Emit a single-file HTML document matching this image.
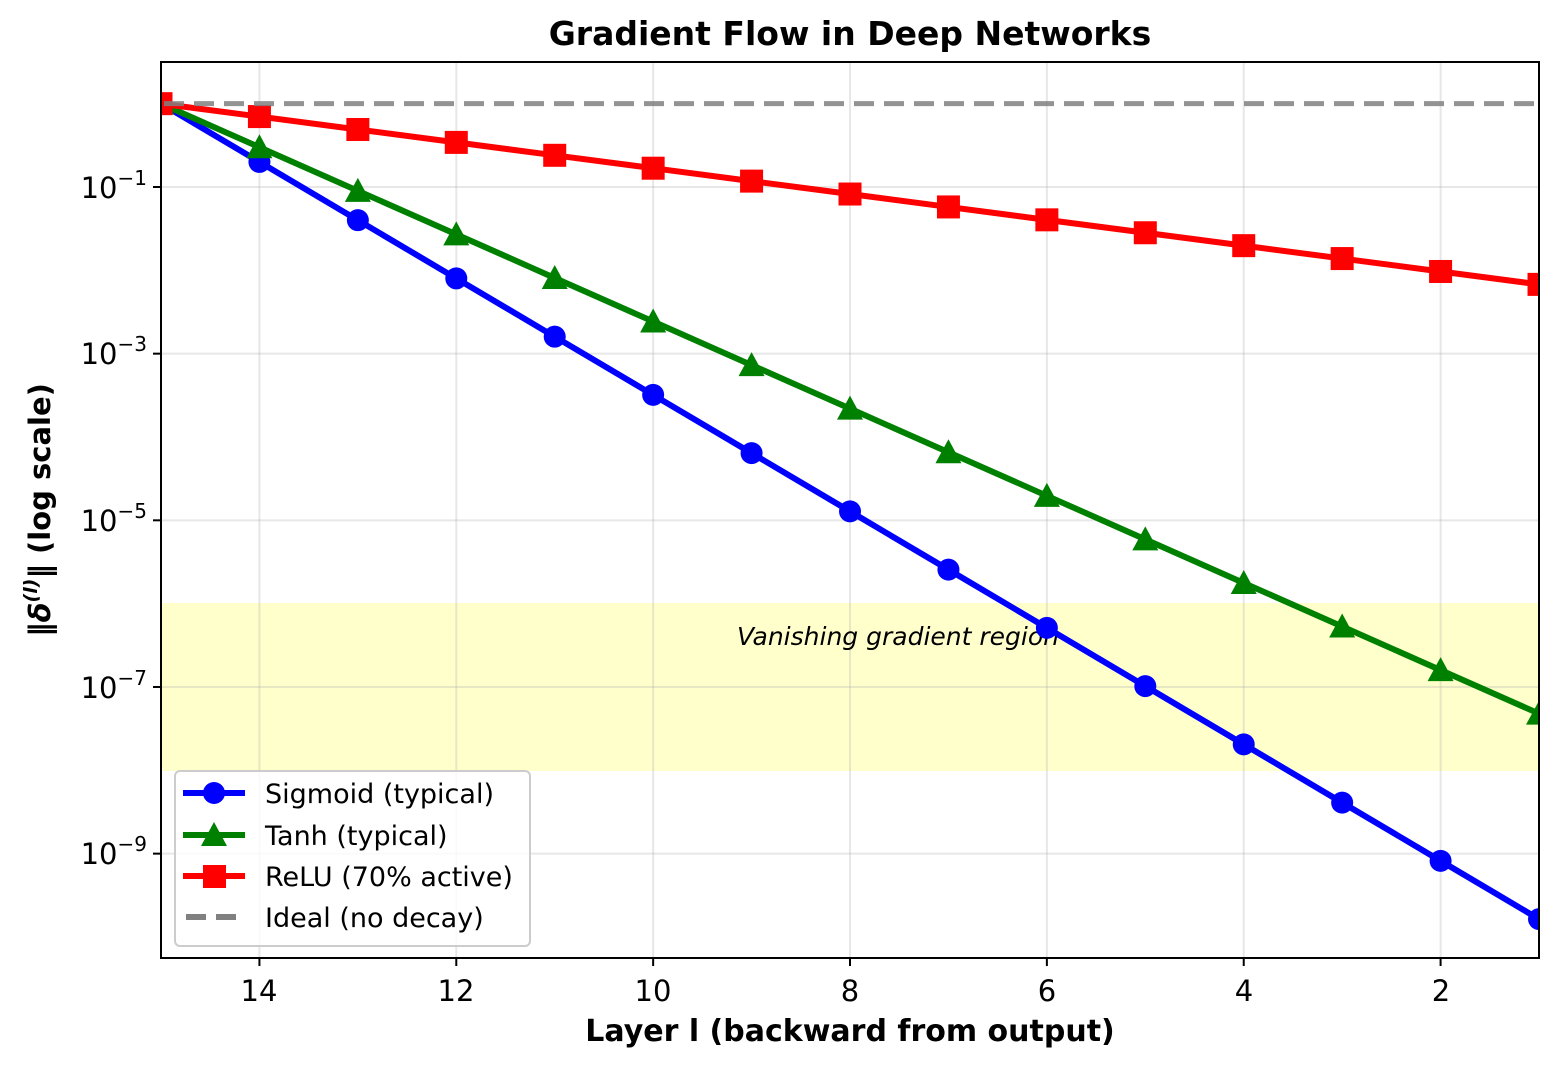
<!DOCTYPE html>
<html><head><meta charset="utf-8"><style>
html,body{margin:0;padding:0;background:#fff;}
svg{display:block;font-family:"DejaVu Sans","Liberation Sans",sans-serif;}
</style></head><body>
<svg id="s" width="1559" height="1068" viewBox="0 0 1559 1068" xmlns="http://www.w3.org/2000/svg">
<defs><clipPath id="c"><rect x="161" y="62" width="1378" height="896"/></clipPath></defs>
<rect width="1559" height="1068" fill="#fff"/>
<rect x="161" y="603" width="1378" height="168" fill="#ffff00" fill-opacity="0.2"/>
<g id="grid" stroke="#b0b0b0" stroke-opacity="0.3" stroke-width="2"></g>
<text x="898" y="645" font-size="25" font-style="italic" text-anchor="middle">Vanishing gradient region</text>
<g id="series" clip-path="url(#c)"></g>
<rect x="161" y="62" width="1378" height="896" fill="none" stroke="#000" stroke-width="2"/>
<g id="ticks" stroke="#000" stroke-width="2"></g>
<g font-size="29" fill="#000">
<text x="259" y="1001" text-anchor="middle">14</text>
<text x="456" y="1001" text-anchor="middle">12</text>
<text x="653" y="1001" text-anchor="middle">10</text>
<text x="850" y="1001" text-anchor="middle">8</text>
<text x="1047" y="1001" text-anchor="middle">6</text>
<text x="1244" y="1001" text-anchor="middle">4</text>
<text x="1441" y="1001" text-anchor="middle">2</text>
<g text-anchor="end">
<text x="147" y="198">10<tspan font-size="20" dy="-13">−1</tspan></text>
<text x="147" y="364">10<tspan font-size="20" dy="-13">−3</tspan></text>
<text x="147" y="531">10<tspan font-size="20" dy="-13">−5</tspan></text>
<text x="147" y="698">10<tspan font-size="20" dy="-13">−7</tspan></text>
<text x="147" y="864">10<tspan font-size="20" dy="-13">−9</tspan></text>
</g>
</g>
<text x="850" y="45" font-size="33" font-weight="bold" text-anchor="middle">Gradient Flow in Deep Networks</text>
<text x="850" y="1041" font-size="30" font-weight="bold" text-anchor="middle">Layer l (backward from output)</text>
<text transform="translate(50,510) rotate(-90)" font-size="29" font-weight="bold" text-anchor="middle">‖<tspan font-style="italic">δ</tspan><tspan font-size="19" dy="-13" font-style="italic">(l)</tspan><tspan dy="13">‖ (log scale)</tspan></text>
<g>
<rect x="175" y="771" width="355" height="175" rx="5" fill="#fff" fill-opacity="0.8" stroke="#ccc" stroke-width="2"/>
<line x1="183" y1="793" x2="245" y2="793" stroke="#0000ff" stroke-width="6"/>
<circle cx="214" cy="793" r="11" fill="#0000ff"/>
<line x1="183" y1="835" x2="245" y2="835" stroke="#008000" stroke-width="6"/>
<polygon points="214,822 227,846 201,846" fill="#008000"/>
<line x1="183" y1="876" x2="245" y2="876" stroke="#ff0000" stroke-width="6"/>
<rect x="203" y="865" width="23" height="23" fill="#ff0000"/>
<line x1="186" y1="917" x2="245" y2="917" stroke="#808080" stroke-width="6" stroke-dasharray="20,10"/>
<g font-size="27"><text x="265" y="803">Sigmoid (typical)</text><text x="265" y="845">Tanh (typical)</text><text x="265" y="886">ReLU (70% active)</text><text x="265" y="927">Ideal (no decay)</text></g>
</g>
</svg>
<script>
var NS="http://www.w3.org/2000/svg";
function X(l){return 161+(15-l)*98.43;}
function Y(v){return 187-(Math.log10(v)+1)*83.33;}
function el(t,a,p){var e=document.createElementNS(NS,t);for(var k in a)e.setAttribute(k,a[k]);p.appendChild(e);return e;}
var g=document.getElementById('grid'),tk=document.getElementById('ticks'),s=document.getElementById('series');
for(var l=14;l>=2;l-=2){el('line',{x1:X(l),x2:X(l),y1:62,y2:958},g);el('line',{x1:X(l),x2:X(l),y1:958,y2:966},tk);}
for(var e=-1;e>=-9;e-=2){var y=Y(Math.pow(10,e));el('line',{x1:161,x2:1539,y1:y,y2:y},g);el('line',{x1:153,x2:161,y1:y,y2:y},tk);}
var ser=[[0.2,'#0000ff','o'],[0.3,'#008000','^'],[0.7,'#ff0000','s']];
ser.forEach(function(d){var pts=[];for(var l=15;l>=1;l--){pts.push(X(l)+','+Y(Math.pow(d[0],15-l)));}
el('polyline',{points:pts.join(' '),fill:'none',stroke:d[1],'stroke-width':6,'stroke-linejoin':'round'},s);
for(var l=15;l>=1;l--){var x=X(l),y=Y(Math.pow(d[0],15-l));
if(d[2]=='o')el('circle',{cx:x,cy:y,r:11,fill:d[1]},s);
else if(d[2]=='^')el('polygon',{points:x+','+(y-13)+' '+(x+13)+','+(y+11)+' '+(x-13)+','+(y+11),fill:d[1]},s);
else el('rect',{x:x-11.5,y:y-11.5,width:23,height:23,fill:d[1]},s);}});
el('line',{x1:161,x2:1539,y1:Y(1),y2:Y(1),stroke:'#808080','stroke-opacity':0.85,'stroke-width':5,'stroke-dasharray':'20,10','stroke-dashoffset':-3},s);
</script>
</body></html>
